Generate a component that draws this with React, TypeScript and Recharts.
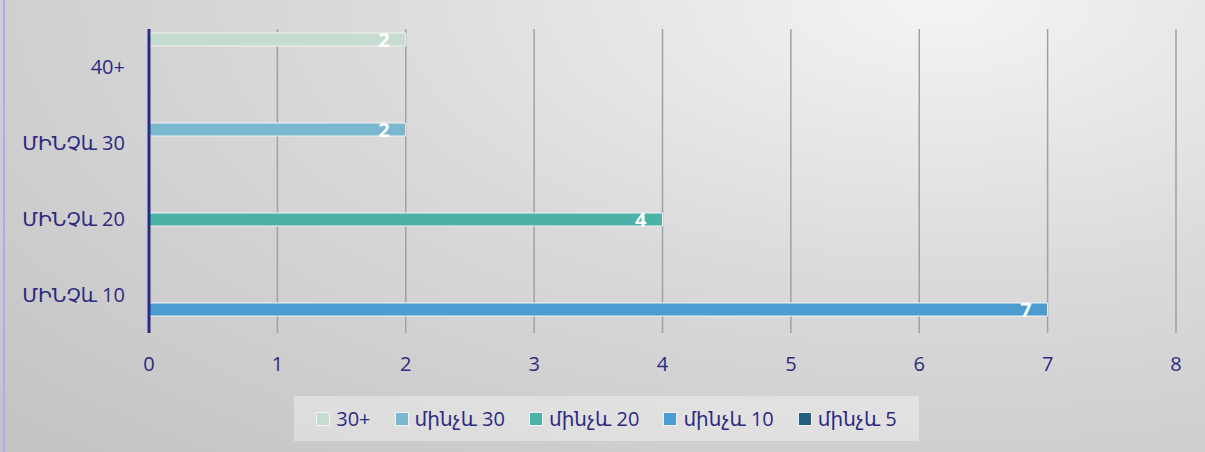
import { BarChart, Bar, XAxis, YAxis, CartesianGrid, LabelList } from "recharts";

const categories = ["40+", "ՄԻՆՉև 30", "ՄԻՆՉև 20", "ՄԻՆՉև 10"];
const seriesNames = ["30+", "մինչև 30", "մինչև 20", "մինչև 10", "մինչև 5"];
const seriesColors = ["#c6dcd0", "#7ab8cf", "#4cb2a8", "#4b9cd0", "#23607f"];

const over30 = [2, null, null, null];
const upTo30 = [null, 2, null, null];
const upTo20 = [null, null, 4, null];
const upTo10 = [null, null, null, 7];
const upTo5 = [null, null, null, null];

const xTicks = [0, 1, 2, 3, 4, 5, 6, 7, 8];

const seriesValues = [over30, upTo30, upTo20, upTo10, upTo5];
const rows = categories.map((cat, i) => {
  const row: any = { cat };
  seriesNames.forEach((name, s) => {
    row[`s${s}`] = seriesValues[s][i];
  });
  return row;
});

const textColor = "#2e2a80";
const font = "'Open Sans', 'DejaVu Sans', sans-serif";

export default function App() {
  return (
    <div
      style={{
        position: "absolute",
        left: 0,
        top: 0,
        width: 1205,
        height: 452,
        overflow: "hidden",
        fontFamily: font,
        background: "radial-gradient(ellipse 110% 140% at 78% 0%, #f4f4f4 0%, #dadada 45%, #c3c3c3 100%)",
      }}
    >
      <div style={{ position: "absolute", left: 3, top: 0, width: 2, height: 452, background: "#aeaaf0" }} />
      <BarChart
        width={1205}
        height={383}
        data={rows}
        layout="vertical"
        margin={{ top: 29, right: 29, left: 0, bottom: 0 }}
        barSize={13}
        barGap={1}
      >
        <CartesianGrid horizontal={false} stroke="#9f9fae" strokeWidth={1.5} />
        <XAxis
          type="number"
          domain={[0, 8]}
          ticks={xTicks}
          height={50}
          axisLine={false}
          tickLine={false}
          tickSize={0}
          tickMargin={24}
          tick={{ fill: textColor, fontSize: 20, fontFamily: font }}
        />
        <YAxis
          type="category"
          dataKey="cat"
          width={149}
          axisLine={{ stroke: "#2b2a86", strokeWidth: 3 }}
          tickLine={false}
          tickSize={0}
          tickMargin={24}
          tick={{ fill: textColor, fontSize: 20, fontFamily: font }}
        />
        {seriesNames.map((name, s) => (
          <Bar
            key={name}
            dataKey={`s${s}`}
            name={name}
            fill={seriesColors[s]}
            stroke="#f2f2f2"
            strokeWidth={1}
            isAnimationActive={false}
          >
            <LabelList
              dataKey={`s${s}`}
              position="insideRight"
              offset={16}
              fill="#ffffff"
              fontSize={20}
              fontWeight="bold"
              fontFamily={font}
              formatter={(v: any) => (v == null ? "" : v)}
            />
          </Bar>
        ))}
      </BarChart>
      <div
        style={{
          position: "absolute",
          left: 294,
          top: 396,
          width: 625,
          height: 45,
          background: "rgba(255,255,255,0.35)",
          display: "flex",
          alignItems: "center",
          justifyContent: "center",
          gap: 24,
          fontSize: 20,
          color: textColor,
        }}
      >
        {seriesNames.map((name, s) => (
          <div key={name} style={{ display: "flex", alignItems: "center", gap: 6 }}>
            <div
              style={{
                width: 12,
                height: 12,
                background: seriesColors[s],
                border: "1px solid #f2f2f2",
              }}
            />
            <span>{name}</span>
          </div>
        ))}
      </div>
    </div>
  );
}
